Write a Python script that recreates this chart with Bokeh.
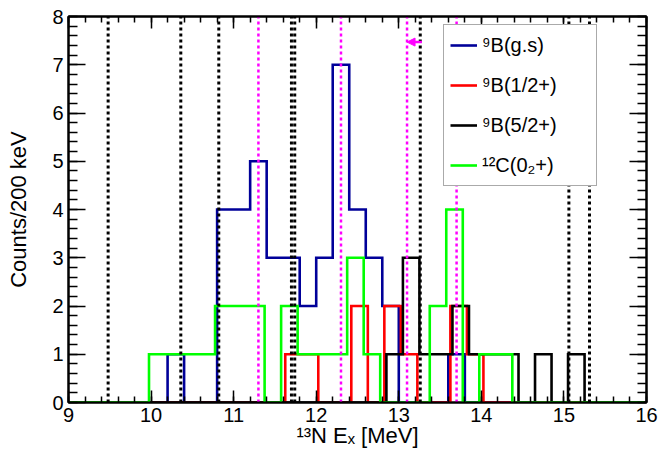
import numpy as np
from bokeh.plotting import figure
from bokeh.models import (Range1d, LinearAxis, FixedTicker, Legend, LegendItem,
                          Arrow, NormalHead, CustomJSTickFormatter)
from bokeh.embed import file_html
from bokeh.resources import INLINE

# ---------------- data ----------------
x_min, x_max = 9.0, 16.0
y_min, y_max = 0, 8
bin_width = 0.2
n_bins = 35

series_labels = ["⁹B(g.s)", "⁹B(1/2+)", "⁹B(5/2+)", "¹²C(0₂+)"]
series_colors = ["#000099", "#ff0000", "#000000", "#00ff00"]
# first bin low edge of each histogram (small visual shifts as in the original)
series_start = [9.0, 9.025, 9.05, 8.975]

gs_counts    = [0, 0, 0, 0, 0, 0, 1, 0, 0, 4, 4, 5, 3, 3, 2, 3, 7, 4, 3, 2,
                0, 0, 0, 1, 0, 0, 0, 0, 0, 0, 0, 0, 0, 0, 0]
half_counts  = [0, 0, 0, 0, 0, 0, 0, 0, 0, 0, 0, 0, 0, 1, 1, 0, 0, 2, 0, 2,
                1, 0, 0, 2, 1, 0, 0, 0, 0, 0, 0, 0, 0, 0, 0]
five_counts  = [0, 0, 0, 0, 0, 0, 0, 0, 0, 0, 0, 0, 0, 0, 0, 0, 0, 0, 0, 1,
                3, 1, 1, 2, 1, 1, 1, 0, 1, 0, 1, 0, 0, 0, 0]
c12_counts   = [0, 0, 0, 0, 0, 1, 1, 1, 1, 2, 2, 2, 0, 2, 1, 1, 1, 3, 1, 0,
                0, 0, 2, 4, 0, 1, 1, 0, 0, 0, 0, 0, 0, 0, 0]
series_counts = [gs_counts, half_counts, five_counts, c12_counts]

black_lines   = [9.48, 10.36, 10.82, 11.70, 11.74, 13.26, 15.06, 15.31]
magenta_lines = [11.30, 12.30, 13.10, 13.70]
arrow_x_start, arrow_x_end, arrow_y = 13.28, 13.10, 7.47

x_major = list(range(9, 17))
x_minor = [round(v, 2) for v in np.arange(9.0, 16.0001, 0.2)]
y_major = list(range(0, 9))
y_minor = [round(v, 2) for v in np.arange(0.0, 8.0001, 0.2)]

FONT = "Liberation Sans"

# ---------------- figure ----------------
p = figure(width=659, height=450, x_range=Range1d(x_min, x_max),
           y_range=Range1d(y_min, y_max), output_backend="svg",
           toolbar_location=None, min_border_left=68, min_border_right=13,
           min_border_top=16, min_border_bottom=47)
p.xgrid.visible = False
p.ygrid.visible = False
p.outline_line_color = "black"
p.outline_line_width = 2
p.background_fill_color = "white"
p.border_fill_color = "white"

renderers = []
for start, counts, color in zip(series_start, series_counts, series_colors):
    edges = [start + bin_width * i for i in range(n_bins + 1)]
    ys = list(counts) + [0]
    r = p.step(x=edges, y=ys, mode="after", line_color=color, line_width=2.6,
               line_join="miter")
    renderers.append(r)

p.segment(x0=black_lines, y0=[y_min] * len(black_lines), x1=black_lines,
          y1=[y_max] * len(black_lines), line_color="black", line_width=3,
          line_dash="3 3")
p.segment(x0=magenta_lines, y0=[y_min] * len(magenta_lines), x1=magenta_lines,
          y1=[y_max] * len(magenta_lines), line_color="#ff00ff", line_width=2.5,
          line_dash="3 3")

p.add_layout(Arrow(x_start=arrow_x_start, y_start=arrow_y, x_end=arrow_x_end,
                   y_end=arrow_y, line_color="#ff00ff", line_width=2.5,
                   end=NormalHead(size=8, fill_color="#ff00ff",
                                  line_color="#ff00ff", line_width=1)))

# ---------------- axes ----------------
xt = FixedTicker(ticks=x_major, minor_ticks=x_minor)
yt = FixedTicker(ticks=y_major, minor_ticks=y_minor)

def style(ax, major_in, minor_in):
    ax.axis_line_color = "black"
    ax.axis_line_width = 2
    ax.major_tick_in = major_in
    ax.major_tick_out = 0
    ax.minor_tick_in = minor_in
    ax.minor_tick_out = 0
    ax.major_tick_line_color = "black"
    ax.major_tick_line_width = 1.5
    ax.minor_tick_line_color = "black"
    ax.minor_tick_line_width = 1.5
    ax.major_label_text_font = FONT
    ax.major_label_text_color = "black"
    ax.major_label_text_font_size = "20px"
    ax.axis_label_text_font = FONT
    ax.axis_label_text_font_style = "normal"
    ax.axis_label_text_color = "black"

xb = p.xaxis[0]
xb.ticker = xt
style(xb, 12, 6)
xb.major_label_standoff = 5
xb.axis_label = "¹³N Eₓ [MeV]"
xb.axis_label_text_font_size = "22px"
xb.axis_label_standoff = -2

yl = p.yaxis[0]
yl.ticker = yt
style(yl, 17, 9)
yl.major_label_standoff = 5
yl.axis_label = "Counts/200 keV"
yl.axis_label_text_font_size = "22px"
yl.axis_label_standoff = 18

blank = CustomJSTickFormatter(code="return ''")
xa = LinearAxis(ticker=xt, formatter=blank)
style(xa, 12, 6)
xa.major_label_standoff = 0
p.add_layout(xa, "above")
yr = LinearAxis(ticker=yt, formatter=blank)
style(yr, 17, 9)
yr.major_label_standoff = 0
p.add_layout(yr, "right")

# ---------------- legend ----------------
legend = Legend(items=[LegendItem(label=l, renderers=[r])
                       for l, r in zip(series_labels, renderers)],
                location=(375, 216), orientation="vertical",
                padding=6, spacing=12, margin=0,
                glyph_width=27, glyph_height=28, label_height=28,
                label_width=108, label_standoff=5,
                label_text_font=FONT, label_text_font_size="20px",
                label_text_color="black",
                border_line_color="#555555", border_line_width=1,
                background_fill_color="white", background_fill_alpha=1.0)
p.add_layout(legend)

open("out.html", "w").write(file_html(p, INLINE))
